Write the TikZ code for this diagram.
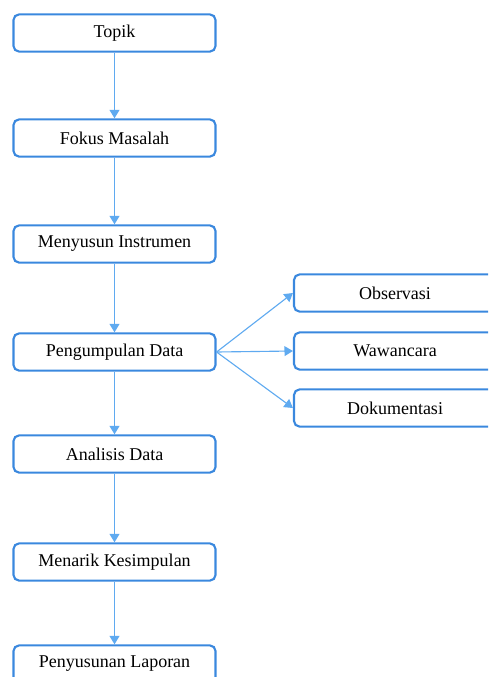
\documentclass[tikz,border=0pt]{standalone}
\usepackage{fontspec}
\setmainfont{Liberation Serif}
\usetikzlibrary{arrows.meta}
\definecolor{boxblue}{RGB}{58,136,222}
\definecolor{linkblue}{RGB}{95,170,240}

\begin{document}
\begin{tikzpicture}[x=0.025cm,y=-0.025cm,
    box/.style={draw=boxblue,line width=1.5pt,rounded corners=4pt,
      minimum width=5.05cm,minimum height=0.93cm,
      font=\fontsize{12.8}{15}\selectfont},
    link/.style={draw=linkblue,line width=0.8pt,-{Triangle[length=6pt,width=7pt]}}]
    \clip (0,0) rectangle (488,677);
            % alur penelitian
            \node[box] (topik) at (114.5,33) {Topik};
            \node[box] (fokus) at (114.5,138) {Fokus Masalah};
            \node[box] (instrumen) at (114.5,244) {Menyusun Instrumen};
            \node[box] (kumpul) at (114.5,352) {Pengumpulan Data};
            \node[box] (analisis) at (114.5,454) {Analisis Data};
            \node[box] (simpul) at (114.5,562) {Menarik Kesimpulan};
            \node[box] (laporan) at (114.5,664) {Penyusunan Laporan};
            % teknik pengumpulan data
            \node[box] (obs) at (395,293) {Observasi};
            \node[box] (wawan) at (395,351) {Wawancara};
            \node[box] (dok) at (395,408) {Dokumentasi};
            \draw[link] (topik)--(fokus);
            \draw[link] (fokus)--(instrumen);
            \draw[link] (instrumen)--(kumpul);
            \draw[link] (kumpul)--(analisis);
            \draw[link] (analisis)--(simpul);
            \draw[link] (simpul)--(laporan);
            \draw[link] (kumpul.east)--(obs.west);
            \draw[link] (kumpul.east)--(wawan.west);
            \draw[link] (kumpul.east)--(dok.west);
        \end{tikzpicture}
\end{document}
